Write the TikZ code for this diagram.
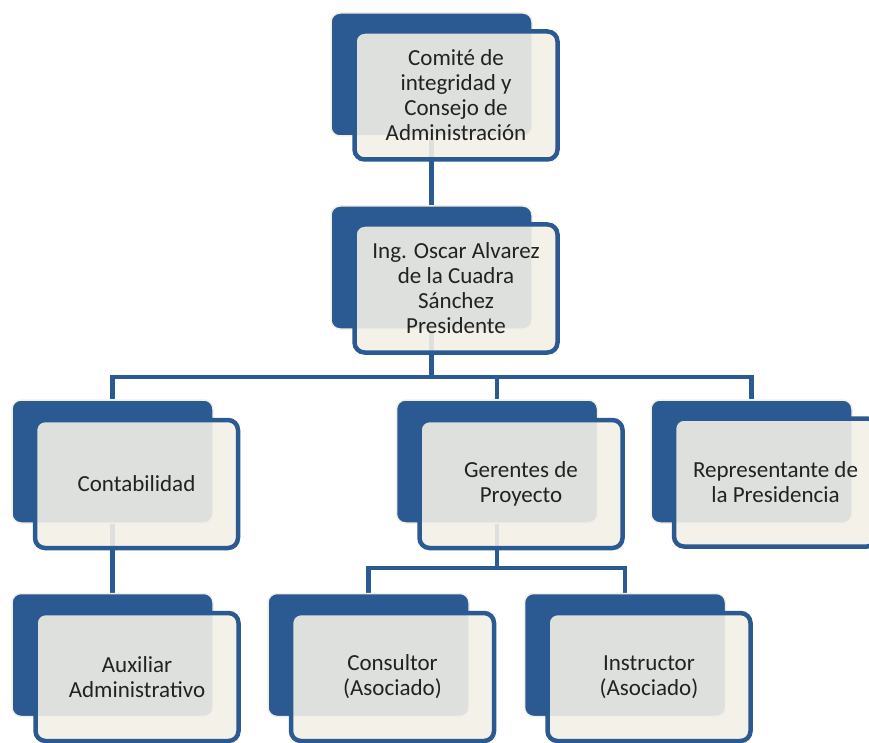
\documentclass[tikz,border=0pt]{standalone}
\usepackage{fontspec}
\setmainfont{Carlito}
\usetikzlibrary{backgrounds}
\definecolor{orgblue}{HTML}{2B5A92}
\definecolor{boxcream}{HTML}{F2EFE6}
\definecolor{txtgray}{HTML}{222222}
\tikzset{
  backbox/.style={rectangle, rounded corners=9pt, fill=orgblue, draw=boxcream,
    line width=1.5pt, minimum width=201pt, minimum height=123pt},
  frontbox/.style={rectangle, rounded corners=10pt, fill=boxcream, fill opacity=0.9,
    text opacity=1, draw=orgblue, line width=4.5pt, minimum width=203pt,
    minimum height=128pt, align=center, text=txtgray,
    font=\fontsize{23}{25}\selectfont},
  link/.style={draw=orgblue, line width=4.5pt}
}
\begin{document}
\begin{tikzpicture}[x=1pt, y=-1pt]
  \useasboundingbox (0,0) rectangle (869,743);
  % back boxes
  \node[backbox] (comB) at (431.5,74.5) {};
  \node[backbox] (presB) at (431.5,267.5) {};
  \node[backbox] (contB) at (112.5,461.5) {};
  \node[backbox] (gerB) at (497,461.5) {};
  \node[backbox] (repB) at (751.5,461.5) {};
  \node[backbox] (auxB) at (112.5,655) {};
  \node[backbox] (consB) at (368.5,655) {};
  \node[backbox] (instB) at (625,655) {};
  % front boxes
  \node[frontbox] (comF) at (456,95.5) {Comité de\\integridad y\\Consejo de\\Administración};
  \node[frontbox] (presF) at (456,288.5) {Ing. Oscar Alvarez\\de la Cuadra\\Sánchez\\Presidente};
  \node[frontbox] (contF) at (136.5,484) {Contabilidad};
  \node[frontbox] (gerF) at (521,484) {Gerentes de\\Proyecto};
  \node[frontbox] (repF) at (775.5,482.5) {Representante de\\la Presidencia};
  \node[frontbox] (auxF) at (137,677) {Auxiliar\\Administrativo};
  \node[frontbox] (consF) at (392.5,677) {Consultor\\(Asociado)};
  \node[frontbox] (instF) at (649,677) {Instructor\\(Asociado)};
  \coordinate (busA) at (431.5,377);
  \coordinate (busB) at (497,568);
  \begin{pgfonlayer}{background}
    \draw[link] (comB.south) -- (presB.north);
    \draw[link] (presB.south) -- (busA) -| (contB.north);
    \draw[link] (busA) -| (gerB.north);
    \draw[link] (busA) -| (repB.north);
    \draw[link] (contB.south) -- (auxB.north);
    \draw[link] (gerB.south) -- (busB) -| (consB.north);
    \draw[link] (busB) -| (instB.north);
  \end{pgfonlayer}
\end{tikzpicture}
\end{document}
